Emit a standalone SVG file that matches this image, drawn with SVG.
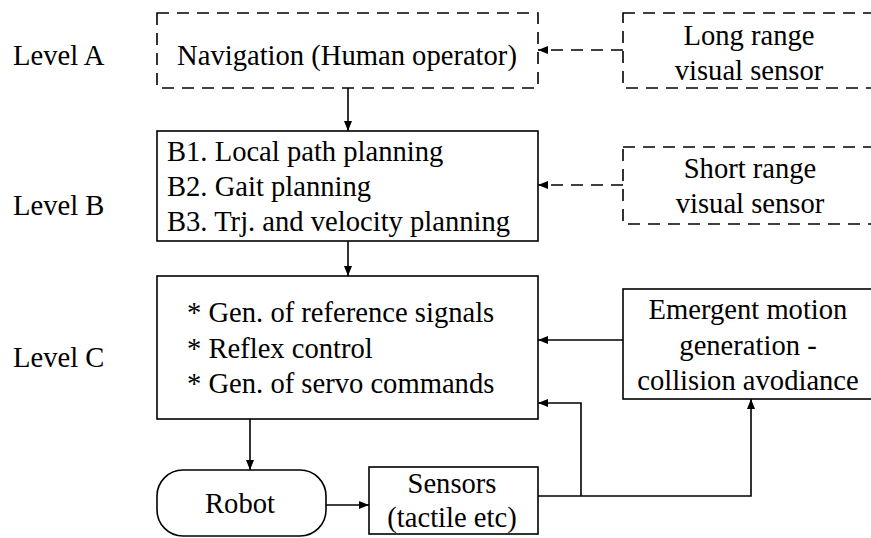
<svg xmlns="http://www.w3.org/2000/svg" width="871" height="538" viewBox="0 0 871 538">
  <style>
    .box { fill: #fff; stroke: #000; stroke-width: 1.6; }
    .dash { stroke-dasharray: 12 8; }
    .wire { fill: none; stroke: #000; stroke-width: 1.6; }
  </style>
  <defs>
    <marker id="arrow" viewBox="0 0 10 8" refX="10" refY="4" markerWidth="10" markerHeight="8" markerUnits="userSpaceOnUse" orient="auto">
      <path d="M0,0 L10,4 L0,8 Z" fill="#000"/>
    </marker>
  </defs>

  <rect width="871" height="538" fill="#fff"/>

  <!-- level labels -->
  <g id="levels">
    <text style="font-family:'Liberation Serif',serif;font-size:28.6px" x="13" y="65">Level A</text>
    <text style="font-family:'Liberation Serif',serif;font-size:28.6px" x="13" y="215">Level B</text>
    <text style="font-family:'Liberation Serif',serif;font-size:28.6px" x="13" y="367">Level C</text>
  </g>

  <g id="navigation">
    <rect class="box dash" x="157" y="13" width="381" height="75"/>
    <text style="font-family:'Liberation Serif',serif;font-size:28.6px" text-anchor="middle" x="347" y="65">Navigation (Human operator)</text>
  </g>

  <g id="long-range-sensor">
    <rect class="box dash" x="623" y="13" width="260" height="75"/>
    <text style="font-family:'Liberation Serif',serif;font-size:28.6px" text-anchor="middle" x="749" y="45">Long range</text>
    <text style="font-family:'Liberation Serif',serif;font-size:28.6px" text-anchor="middle" x="749" y="80">visual sensor</text>
  </g>

  <g id="planning">
    <rect class="box" x="157" y="131" width="381" height="110"/>
    <text style="font-family:'Liberation Serif',serif;font-size:28.6px" x="167" y="161">B1. Local path planning</text>
    <text style="font-family:'Liberation Serif',serif;font-size:28.6px" x="167" y="196">B2. Gait planning</text>
    <text style="font-family:'Liberation Serif',serif;font-size:28.6px" x="167" y="231">B3. Trj. and velocity planning</text>
  </g>

  <g id="short-range-sensor">
    <rect class="box dash" x="623" y="147" width="260" height="77"/>
    <text style="font-family:'Liberation Serif',serif;font-size:28.6px" text-anchor="middle" x="750" y="178">Short range</text>
    <text style="font-family:'Liberation Serif',serif;font-size:28.6px" text-anchor="middle" x="750" y="213">visual sensor</text>
  </g>

  <g id="control">
    <rect class="box" x="157" y="276" width="381" height="143"/>
    <text style="font-family:'Liberation Serif',serif;font-size:28.6px" x="187" y="322">* Gen. of reference signals</text>
    <text style="font-family:'Liberation Serif',serif;font-size:28.6px" x="187" y="358">* Reflex control</text>
    <text style="font-family:'Liberation Serif',serif;font-size:28.6px" x="187" y="393">* Gen. of servo commands</text>
  </g>

  <g id="emergent-motion">
    <rect class="box" x="623" y="289" width="260" height="110"/>
    <text style="font-family:'Liberation Serif',serif;font-size:28.6px" text-anchor="middle" x="748" y="319">Emergent motion</text>
    <text style="font-family:'Liberation Serif',serif;font-size:28.6px" text-anchor="middle" x="748" y="355">generation -</text>
    <text style="font-family:'Liberation Serif',serif;font-size:28.6px" text-anchor="middle" x="748" y="390">collision avodiance</text>
  </g>

  <g id="robot">
    <rect class="box" x="157" y="470" width="169" height="66" rx="26" ry="26"/>
    <text style="font-family:'Liberation Serif',serif;font-size:28.6px" text-anchor="middle" x="240" y="513">Robot</text>
  </g>

  <g id="sensors">
    <rect class="box" x="369" y="467" width="169" height="67"/>
    <text style="font-family:'Liberation Serif',serif;font-size:28.6px" text-anchor="middle" x="452" y="493">Sensors</text>
    <text style="font-family:'Liberation Serif',serif;font-size:28.6px" text-anchor="middle" x="452" y="527">(tactile etc)</text>
  </g>

  <g id="connectors">
    <path class="wire dash" d="M623,50 H538" marker-end="url(#arrow)"/>
    <path class="wire dash" d="M623,185 H538" marker-end="url(#arrow)"/>
    <path class="wire" d="M348,88 V131" marker-end="url(#arrow)"/>
    <path class="wire" d="M348,241 V276" marker-end="url(#arrow)"/>
    <path class="wire" d="M623,340 H538" marker-end="url(#arrow)"/>
    <path class="wire" d="M250,419 V470" marker-end="url(#arrow)"/>
    <path class="wire" d="M326,505 H369" marker-end="url(#arrow)"/>
    <path class="wire" d="M538,496 H751 V399" marker-end="url(#arrow)"/>
    <path class="wire" d="M581,496 V403 H538" marker-end="url(#arrow)"/>
  </g>
</svg>
